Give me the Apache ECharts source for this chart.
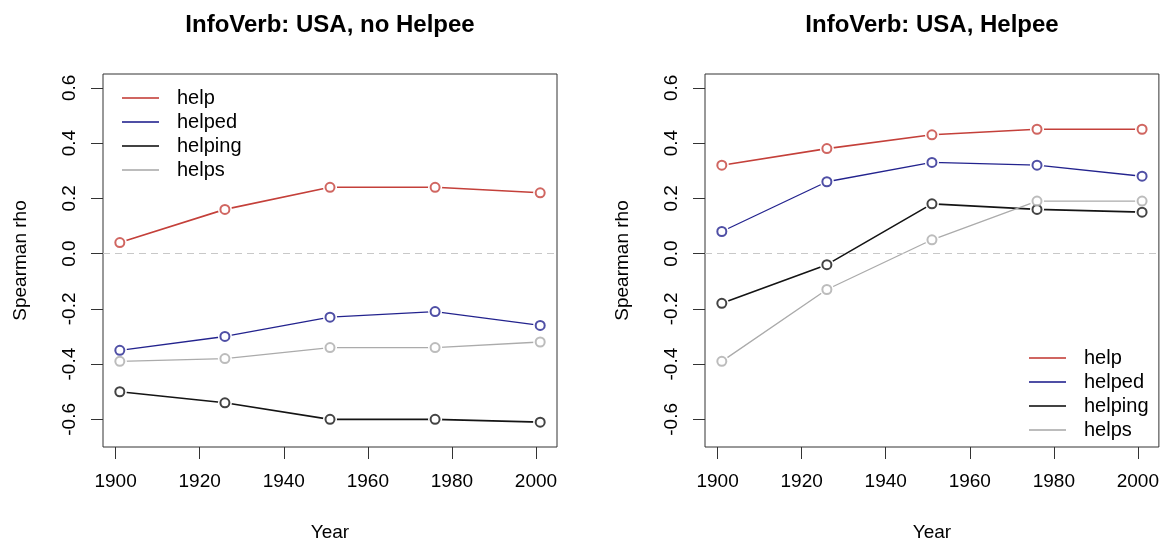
<!DOCTYPE html>
<html>
<head>
<meta charset="utf-8">
<script src="https://cdn.jsdelivr.net/npm/echarts@6/dist/echarts.min.js"></script>
<style>
html,body{margin:0;padding:0;background:#fff;}
#chart{width:1162px;height:547px;}
</style>
</head>
<body>
<div id="chart"></div>
<script>
// ---- data ----
const years = [1901, 1926, 1951, 1976, 2001];
const verbs = ['help', 'helped', 'helping', 'helps'];
const panelTitles = ['InfoVerb: USA, no Helpee', 'InfoVerb: USA, Helpee'];
const xTicks = [1900, 1920, 1940, 1960, 1980, 2000];
const yTicks = [-0.6, -0.4, -0.2, 0.0, 0.2, 0.4, 0.6];

// panel 1: no Helpee
const noHelpeeHelp    = [0.04, 0.16, 0.24, 0.24, 0.22];
const noHelpeeHelped  = [-0.35, -0.30, -0.23, -0.21, -0.26];
const noHelpeeHelping = [-0.50, -0.54, -0.60, -0.60, -0.61];
const noHelpeeHelps   = [-0.39, -0.38, -0.34, -0.34, -0.32];

// panel 2: Helpee
const helpeeHelp    = [0.32, 0.38, 0.43, 0.45, 0.45];
const helpeeHelped  = [0.08, 0.26, 0.33, 0.32, 0.28];
const helpeeHelping = [-0.18, -0.04, 0.18, 0.16, 0.15];
const helpeeHelps   = [-0.39, -0.13, 0.05, 0.19, 0.19];

const panelData = [
  [noHelpeeHelp, noHelpeeHelped, noHelpeeHelping, noHelpeeHelps],
  [helpeeHelp, helpeeHelped, helpeeHelping, helpeeHelps]
];

// ---- style ----
const FONT = 'Liberation Sans, Arial, sans-serif';
const colors = ['#c4403a', '#23238e', '#141414', '#ababab'];
const lineWidths = [1.6, 1.3, 1.6, 1.3];
const gridLefts = [103, 705];
const gridTop = 74, gridW = 454, gridH = 380;

const grids = [], xAxes = [], yAxes = [], titles = [], series = [];
panelData.forEach((panel, p) => {
  grids.push({left: gridLefts[p], top: gridTop, width: gridW, height: gridH,
    show: true, borderColor: '#333', borderWidth: 1, backgroundColor: 'transparent'});
  xAxes.push({
    type: 'value', gridIndex: p, min: 1897, max: 2005,
    name: 'Year', nameLocation: 'middle', nameGap: 76,
    nameTextStyle: {fontFamily: FONT, fontSize: 19, color: '#000'},
    axisLine: {show: false, onZero: false},
    splitLine: {show: false},
    axisTick: {show: true, length: 12, customValues: xTicks, lineStyle: {color: '#333', width: 1}},
    axisLabel: {customValues: xTicks, fontFamily: FONT, fontSize: 19, color: '#000', margin: 25,
      formatter: v => String(v)}
  });
  yAxes.push({
    type: 'value', gridIndex: p, min: -0.7, max: 0.65,
    name: 'Spearman rho', nameLocation: 'middle', nameGap: 73,
    nameTextStyle: {fontFamily: FONT, fontSize: 19, color: '#000'},
    axisLine: {show: false, onZero: false},
    splitLine: {show: false},
    axisTick: {show: true, length: 12, customValues: yTicks, lineStyle: {color: '#333', width: 1}},
    axisLabel: {customValues: yTicks, rotate: 90, fontFamily: FONT, fontSize: 19, color: '#000', margin: 24,
      formatter: v => v.toFixed(1)}
  });
  titles.push({
    text: panelTitles[p], left: gridLefts[p] + gridW / 2, top: 13, textAlign: 'center', padding: 0,
    textStyle: {fontFamily: FONT, fontSize: 24, fontWeight: 'bold', color: '#000'}
  });
  panel.forEach((vals, k) => {
    const pts = years.map((y, i) => [y, vals[i]]);
    const lineSeries = {
      type: 'line', name: verbs[k] + '_line_' + p, xAxisIndex: p, yAxisIndex: p,
      data: pts, symbol: 'circle', symbolSize: 14, silent: true, animation: false, z: 2,
      itemStyle: {color: '#fff', borderWidth: 0},
      lineStyle: {color: colors[k], width: lineWidths[k]},
      emphasis: {disabled: true}
    };
    if (k === 0) {
      lineSeries.markLine = {
        silent: true, symbol: 'none', label: {show: false}, animation: false,
        lineStyle: {color: '#c8c8c8', type: [7, 5], width: 1.2},
        data: [{yAxis: 0}]
      };
    }
    series.push(lineSeries);
    series.push({
      type: 'scatter', name: verbs[k], xAxisIndex: p, yAxisIndex: p,
      data: pts, symbol: 'emptyCircle', symbolSize: 9, silent: true, animation: false, z: 4,
      itemStyle: {color: colors[k], borderWidth: 1.2},
      emphasis: {disabled: true}
    });
  });
});

const legendCommon = {
  orient: 'vertical', icon: 'rect', itemWidth: 37, itemHeight: 2, itemGap: 0,
  selectedMode: false, padding: 0, data: verbs,
  textStyle: {fontFamily: FONT, fontSize: 20, color: '#000', lineHeight: 24, padding: [0, 0, 0, 13]}
};

const chart = echarts.init(document.getElementById('chart'), null, {renderer: 'canvas'});
chart.setOption({
  animation: false,
  backgroundColor: '#fff',
  title: titles,
  grid: grids,
  xAxis: xAxes,
  yAxis: yAxes,
  legend: [
    Object.assign({}, legendCommon, {left: 122, top: 86}),
    Object.assign({}, legendCommon, {left: 1029, top: 346})
  ],
  series: series
});
</script>
</body>
</html>
